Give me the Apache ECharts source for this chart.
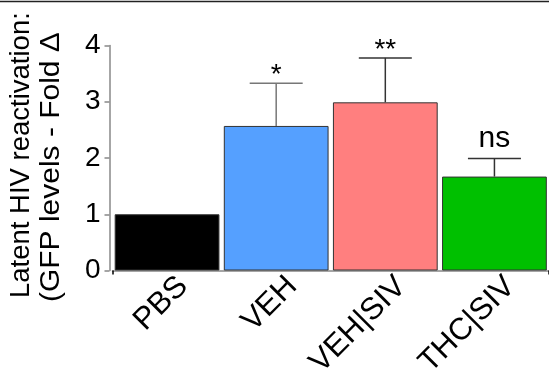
<!DOCTYPE html>
<html><head><meta charset="utf-8">
<script src="https://cdn.jsdelivr.net/npm/echarts@6/dist/echarts.min.js"></script>
<style>html,body{margin:0;padding:0;background:#fff}#c{width:549px;height:377px}</style>
</head><body><div id="c"></div>
<script>
const categories = ['PBS', 'VEH', 'VEH|SIV', 'THC|SIV'];
const means = [1.0, 2.57, 2.99, 1.67];
const errorTops = [1.0, 3.33, 3.78, 1.99];
const significance = ['', '*', '**', 'ns'];
const barColors = ['#000000', '#55A0FF', '#FF7F7F', '#00C000'];
const yTicks = [0, 1, 2, 3, 4];
const yTitle = ['Latent HIV reactivation:', '(GFP levels - Fold Δ'];

const FONT = 'Liberation Sans, Arial, sans-serif';
const chart = echarts.init(document.getElementById('c'), null, {renderer: 'canvas'});
chart.setOption({
  animation: false,
  grid: {left: 112.5, top: 45.5, width: 447, height: 225, containLabel: false},
  xAxis: {
    type: 'category', data: categories, boundaryGap: true,
    axisLine: {lineStyle: {color: '#888', width: 1.5}},
    axisTick: {show: true, length: 4, lineStyle: {color: '#000', width: 1.5},
      interval: function (i) { return i === 2; }},
    axisLabel: {show: false}
  },
  yAxis: {
    type: 'value', min: yTicks[0], max: yTicks[yTicks.length - 1], interval: 1, offset: 3,
    axisLine: {show: true, lineStyle: {color: '#888', width: 1.5}},
    axisTick: {show: true, length: 5, lineStyle: {color: '#888', width: 1.5}},
    axisLabel: {fontSize: 28, color: '#000', fontFamily: FONT, margin: 9},
    splitLine: {show: false}
  },
  graphic: [
    {type: 'line', shape: {x1: 0, y1: 1.5, x2: 549, y2: 1.5}, style: {stroke: '#222', lineWidth: 1.5}},
    {type: 'text', x: 21, y: 298, rotation: Math.PI / 2,
      style: {text: yTitle[0], font: '27.5px ' + FONT, fill: '#000', textAlign: 'left', textVerticalAlign: 'middle'}},
    {type: 'text', x: 51, y: 302, rotation: Math.PI / 2, scaleX: 1.09,
      style: {text: yTitle[1], font: '27.5px ' + FONT, fill: '#000', textAlign: 'left', textVerticalAlign: 'middle'}}
  ],
  series: [
    {
      type: 'bar', barCategoryGap: '4%',
      data: means.map((v, i) => ({value: v, itemStyle: {color: barColors[i], borderColor: '#333', borderWidth: 1}}))
    },
    {
      type: 'custom', z: 5,
      data: means.map((v, i) => [i, v, errorTops[i]]),
      renderItem: function (params, api) {
        const i = api.value(0);
        const base = api.coord([i, api.value(1)]);
        const top = api.coord([i, api.value(2)]);
        const zero = api.coord([i, 0]);
        const children = [];
        const col = i === 1 ? '#777' : '#333';
        if (api.value(2) > api.value(1)) {
          children.push({type: 'line', shape: {x1: base[0], y1: base[1], x2: top[0], y2: top[1]}, style: {stroke: col, lineWidth: 1.5}});
          children.push({type: 'line', shape: {x1: top[0] - 26.5, y1: top[1], x2: top[0] + 26.5, y2: top[1]}, style: {stroke: col, lineWidth: 1.5}});
        }
        const s = significance[i];
        if (s) {
          const isStar = s.indexOf('*') >= 0;
          children.push({type: 'text', x: top[0], y: top[1] + (isStar ? 6 : -5),
            style: {text: s, font: (isStar ? '28px ' : '30px ') + FONT, fill: '#000', textAlign: 'center', textVerticalAlign: 'bottom'}});
        }
        // category label, rotated 45 degrees, anchored under the category
        children.push({type: 'text', x: zero[0] + 16, y: zero[1] + 11, rotation: Math.PI / 4,
          style: {text: categories[i], font: '31px ' + FONT, fill: '#000', textAlign: 'right', textVerticalAlign: 'middle'}});
        return {type: 'group', children: children};
      }
    }
  ]
});
</script></body></html>
